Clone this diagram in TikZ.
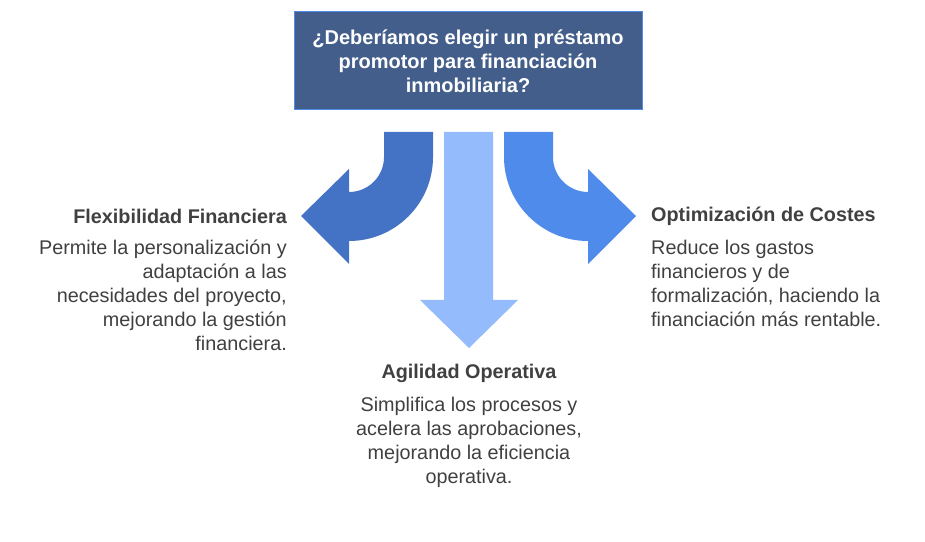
\documentclass[tikz,border=0pt]{standalone}
\usepackage{fontspec}
\setmainfont{Liberation Sans}
\definecolor{boxfill}{HTML}{435E8A}
\definecolor{boxline}{HTML}{4F8BE8}
\definecolor{leftc}{HTML}{4472C4}
\definecolor{midc}{HTML}{94BBFB}
\definecolor{rightc}{HTML}{4F8BEB}
\definecolor{txt}{HTML}{404040}
\begin{document}
\begin{tikzpicture}[x=1pt,y=1pt,
  head/.style={font=\fontsize{19.8}{24}\selectfont\bfseries,text=txt,inner sep=0},
  body/.style={font=\fontsize{19.8}{24}\selectfont,text=txt,inner sep=0}]
\useasboundingbox (0,0) rectangle (925,541);
\node[draw=boxline,line width=1pt,fill=boxfill,minimum width=348,minimum height=98,text=white,
  font=\fontsize{20}{24}\selectfont\bfseries,align=center,inner sep=0] (q) at (468,480)
  {¿Deberíamos elegir un préstamo\\promotor para financiación\\inmobiliaria?};
\fill[leftc] (384,409) -- (433,409) -- (433,384) arc[start angle=0,end angle=-90,radius=84]
  -- (349,277) -- (301,325) -- (349,372) -- (349,349) arc[start angle=-90,end angle=0,radius=35] -- cycle;
\fill[rightc] (553,409) -- (504,409) -- (504,384) arc[start angle=180,end angle=270,radius=84]
  -- (588,277) -- (636,325) -- (588,372) -- (588,349) arc[start angle=270,end angle=180,radius=35] -- cycle;
\fill[midc] (444,409) -- (493,409) -- (493,241) -- (518,241) -- (469,193) -- (420,241) -- (444,241) -- cycle;
\node[head,anchor=east] (lh) at (287,325) {Flexibilidad Financiera};
\node[body,anchor=north east,align=right] (lb) at (287,301) {Permite la personalización y\\adaptación a las\\necesidades del proyecto,\\mejorando la gestión\\financiera.};
\node[head,anchor=west] (rh) at (651,325) {Optimización de Costes};
\node[body,anchor=north west,align=left] (rb) at (651,301) {Reduce los gastos\\financieros y de\\formalización, haciendo la\\financiación más rentable.};
\node[head] (mh) at (469,168) {Agilidad Operativa};
\node[body,anchor=north,align=center] (mb) at (469,144) {Simplifica los procesos y\\acelera las aprobaciones,\\mejorando la eficiencia\\operativa.};
\end{tikzpicture}
\end{document}
